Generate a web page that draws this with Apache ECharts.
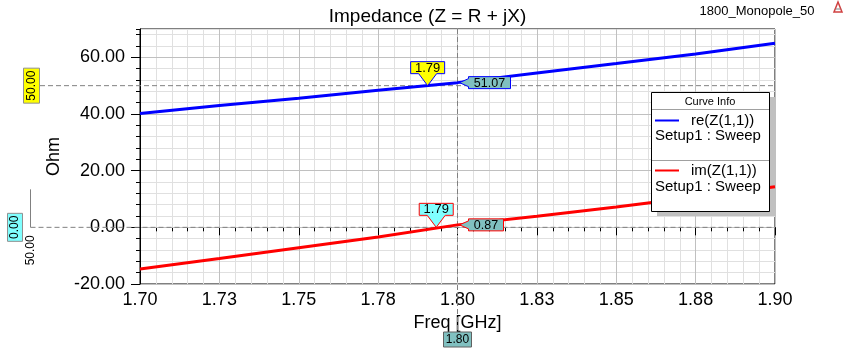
<!DOCTYPE html>
<html>
<head>
<meta charset="utf-8">
<script src="https://cdn.jsdelivr.net/npm/echarts@6/dist/echarts.min.js"></script>
<style>
html,body{margin:0;padding:0;background:#fff;}
#chart{width:855px;height:352px;}
</style>
</head>
<body>
<div id="chart"></div>
<script>
// ---- data ----
const freqs = [1.70, 1.725, 1.75, 1.775, 1.80, 1.825, 1.85, 1.875, 1.90];
const reZ = [40.2, 43.0, 45.6, 48.4, 51.07, 54.5, 57.8, 61.2, 65.0];
const imZ = [-14.7, -11.0, -7.2, -3.4, 0.87, 3.9, 7.2, 10.7, 14.3];
const xTickLabels = ['1.70', '1.73', '1.75', '1.78', '1.80', '1.83', '1.85', '1.88', '1.90'];
const yTickValues = [-20, 0, 20, 40, 60];
const yTickLabels = ['-20.00', '0.00', '20.00', '40.00', '60.00'];
const seriesNames = ['re(Z(1,1))', 'im(Z(1,1))'];
const setupName = 'Setup1 : Sweep';
const cursorFreq = 1.80;
const cursorLabel = '1.80';
const cursorValueLabels = ['51.07', '0.87'];
const markerFreqs = [1.7906, 1.7933];
const markerLevels = [50.0, 0.0];
const markerLabel = '1.79';
const markerLevelLabels = ['50.00', '0.00'];
const deltaLabel = '50.00';

const FONT = '"Liberation Sans", Arial, sans-serif';
const chart = echarts.init(document.getElementById('chart'), null, {renderer: 'canvas'});

const xMin = 1.70, xMax = 1.90, xInt = 0.025;

chart.setOption({
  animation: false,
  title: {
    text: 'Impedance (Z = R + jX)',
    left: 'center', top: 2,
    textStyle: {fontFamily: FONT, fontSize: 19, fontWeight: 'normal', color: '#000'}
  },
  grid: {left: 140, right: 80, top: 29, height: 255, show: true, borderColor: '#000', borderWidth: 1, backgroundColor: 'transparent'},
  xAxis: {
    type: 'value', min: xMin, max: xMax, interval: xInt,
    name: 'Freq [GHz]', nameLocation: 'middle', nameGap: 26,
    nameTextStyle: {fontFamily: FONT, fontSize: 18, color: '#000'},
    axisLine: {lineStyle: {color: '#000', width: 1}},
    axisTick: {show: true, length: 8, lineStyle: {color: '#000'}},
    minorTick: {show: true, splitNumber: 5, length: 4, lineStyle: {color: '#000'}},
    axisLabel: {
      margin: 7, fontFamily: FONT, fontSize: 18, color: '#000',
      formatter: v => { const i = Math.round((v - xMin) / xInt); return xTickLabels[i] || ''; }
    },
    splitLine: {show: true, lineStyle: {color: '#c0c0c0', width: 1}},
    minorSplitLine: {show: true, lineStyle: {color: '#e0e0e0', width: 1}}
  },
  yAxis: [{
    type: 'value', min: -20, max: 70, interval: 20, z: 2,
    name: 'Ohm', nameLocation: 'middle', nameGap: 68,
    nameTextStyle: {fontFamily: FONT, fontSize: 18, color: '#000'},
    axisLine: {show: true, lineStyle: {color: '#000', width: 1}},
    axisTick: {show: true, length: 9, customValues: yTickValues, lineStyle: {color: '#000'}},
    axisLabel: {
      margin: 15, fontFamily: FONT, fontSize: 18, color: '#000',
      customValues: yTickValues,
      formatter: v => { const i = yTickValues.indexOf(Math.round(v)); return i >= 0 ? yTickLabels[i] : ''; }
    },
    splitLine: {show: true, lineStyle: {color: '#c0c0c0', width: 1}}
  }, {
    type: 'value', min: -20, max: 70, interval: 4, position: 'left', z: 0,
    axisLine: {show: false},
    axisTick: {show: true, length: 4, lineStyle: {color: '#000'}},
    axisLabel: {show: false},
    splitLine: {show: true, lineStyle: {color: '#e0e0e0', width: 1}}
  }],
  series: [{
    name: seriesNames[0], type: 'line', yAxisIndex: 0, showSymbol: false, symbol: 'none',
    lineStyle: {color: '#0000ff', width: 3}, z: 5,
    data: freqs.map((f, i) => [f, reZ[i]])
  }, {
    name: seriesNames[1], type: 'line', yAxisIndex: 0, showSymbol: false, symbol: 'none',
    lineStyle: {color: '#ff0000', width: 3}, z: 5,
    data: freqs.map((f, i) => [f, imZ[i]])
  }]
});

function px(f, v) { return chart.convertToPixel({gridIndex: 0}, [f, v]); }
function txt(x, y, text, size, opts) {
  opts = opts || {};
  return {
    type: 'text', x: x, y: y, rotation: opts.rot || 0, z: opts.z || 60,
    style: {
      text: text, x: 0, y: 0, font: 'normal ' + size + 'px ' + FONT, fill: opts.fill || '#000',
      align: opts.align || 'center', verticalAlign: opts.va || 'middle',
      textAlign: opts.align || 'center', textVerticalAlign: opts.va || 'middle'
    }
  };
}

const g = [];
const topLeft = px(xMin, 70), botRight = px(xMax, -20);
const plotTop = topLeft[1], plotRight = botRight[0], plotBottom = botRight[1];
const DASH = {stroke: '#808080', lineWidth: 1, lineDash: [5, 3]};

// cursor vertical line at 1.80
const cx = px(cursorFreq, 0)[0];
g.push({type: 'line', z: 4, shape: {x1: cx, y1: plotTop, x2: cx, y2: 332}, style: DASH});
g.push({type: 'rect', z: 60, shape: {x: cx - 14, y: 332, width: 28, height: 15}, style: {fill: '#80c0c0', stroke: '#606060', lineWidth: 1}});
g.push(txt(cx, 340, cursorLabel, 12));

// reference level lines
const y50 = px(xMin, markerLevels[0])[1];
const y0 = px(xMin, markerLevels[1])[1];
g.push({type: 'line', z: 4, shape: {x1: 40, y1: y50, x2: plotRight, y2: y50}, style: DASH});
g.push({type: 'line', z: 4, shape: {x1: 30.5, y1: y0, x2: plotRight, y2: y0}, style: DASH});
g.push({type: 'rect', z: 60, shape: {x: 23.5, y: y50 - 17.5, width: 16, height: 35}, style: {fill: '#ffff00', stroke: '#909090', lineWidth: 1}});
g.push(txt(31.5, y50, markerLevelLabels[0], 12, {rot: Math.PI / 2}));
g.push({type: 'rect', z: 60, shape: {x: 7.5, y: y0 - 14, width: 15, height: 28}, style: {fill: '#80ffff', stroke: '#909090', lineWidth: 1}});
g.push(txt(15, y0, markerLevelLabels[1], 12, {rot: Math.PI / 2}));
g.push({type: 'line', z: 4, shape: {x1: 30.5, y1: y0 - 38, x2: 30.5, y2: y0}, style: {stroke: '#808080', lineWidth: 1}});
g.push(txt(31, y0 + 23, deltaLabel, 12, {rot: Math.PI / 2}));

// marker tags (pointing down)
function tagDown(tip, text, fill, stroke) {
  const w = 34, h = 12, tx = tip[0], ty = tip[1];
  const bottom = ty - 12, top = bottom - h, l = tx - w / 2, r = tx + w / 2;
  g.push({type: 'polygon', z: 50, shape: {points: [[l, top], [r, top], [r, bottom], [tx + 9, bottom], [tx, ty], [tx - 9, bottom], [l, bottom]]},
    style: {fill: fill, stroke: stroke, lineWidth: 1}});
  g.push(txt(tx, top + h / 2 + 0.5, text, 13));
}
tagDown(px(markerFreqs[0], markerLevels[0]), markerLabel, '#ffff00', '#0000ff');
tagDown(px(markerFreqs[1], markerLevels[1]), markerLabel, '#80ffff', '#ff0000');

// cursor value tags (pointing left)
function tagLeft(pt, text, w, stroke) {
  const x = pt[0], y = pt[1], bx = x + 11, h = 12;
  g.push({type: 'polygon', z: 50, shape: {points: [[x + 2, y], [bx, y - 4], [bx, y - h / 2], [bx + w, y - h / 2], [bx + w, y + h / 2], [bx, y + h / 2], [bx, y + 4]]},
    style: {fill: '#80c0c0', stroke: stroke, lineWidth: 1}});
  g.push(txt(bx + w / 2, y + 0.5, text, 12.5));
}
tagLeft(px(cursorFreq, reZ[freqs.indexOf(cursorFreq)]), cursorValueLabels[0], 42, '#0000ff');
tagLeft(px(cursorFreq, imZ[freqs.indexOf(cursorFreq)]), cursorValueLabels[1], 35, '#ff0000');

// legend "Curve Info"
const LX = 651, LY = 92, LW = 118, LH = 119;
g.push({type: 'rect', z: 3, shape: {x: LX + 6, y: LY + 5, width: LW, height: LH}, style: {fill: '#c0c0c0'}});
g.push({type: 'rect', z: 40, shape: {x: LX + 0.5, y: LY + 0.5, width: LW, height: LH}, style: {fill: '#fff', stroke: '#000', lineWidth: 1}});
g.push(txt(LX + 59, LY + 9.5, 'Curve Info', 11, {z: 41}));
g.push({type: 'line', z: 41, shape: {x1: LX + 1, y1: LY + 17.5, x2: LX + LW, y2: LY + 17.5}, style: {stroke: '#a0a0a0', lineWidth: 1}});
g.push({type: 'line', z: 41, shape: {x1: LX + 4, y1: LY + 28.5, x2: LX + 28, y2: LY + 28.5}, style: {stroke: '#0000ff', lineWidth: 2}});
g.push(txt(LX + 40, LY + 28.5, seriesNames[0], 15, {align: 'left', z: 41}));
g.push(txt(LX + 4, LY + 44, setupName, 15, {align: 'left', z: 41}));
g.push({type: 'line', z: 41, shape: {x1: LX + 1, y1: LY + 68.5, x2: LX + LW, y2: LY + 68.5}, style: {stroke: '#a0a0a0', lineWidth: 1}});
g.push({type: 'line', z: 41, shape: {x1: LX + 4, y1: LY + 78.5, x2: LX + 28, y2: LY + 78.5}, style: {stroke: '#ff0000', lineWidth: 2}});
g.push(txt(LX + 40, LY + 78.5, seriesNames[1], 15, {align: 'left', z: 41}));
g.push(txt(LX + 4, LY + 94.5, setupName, 15, {align: 'left', z: 41}));

// project name and logo
g.push(txt(757, 11, '1800_Monopole_50', 13));
g.push({type: 'polygon', z: 60, shape: {points: [[838, 2], [834, 12], [842, 12]]}, style: {fill: 'none', stroke: '#d04040', lineWidth: 1.5}});
g.push({type: 'line', z: 60, shape: {x1: 835.5, y1: 9, x2: 840.5, y2: 9}, style: {stroke: '#808080', lineWidth: 1}});

chart.setOption({graphic: {elements: g}});
</script>
</body>
</html>
